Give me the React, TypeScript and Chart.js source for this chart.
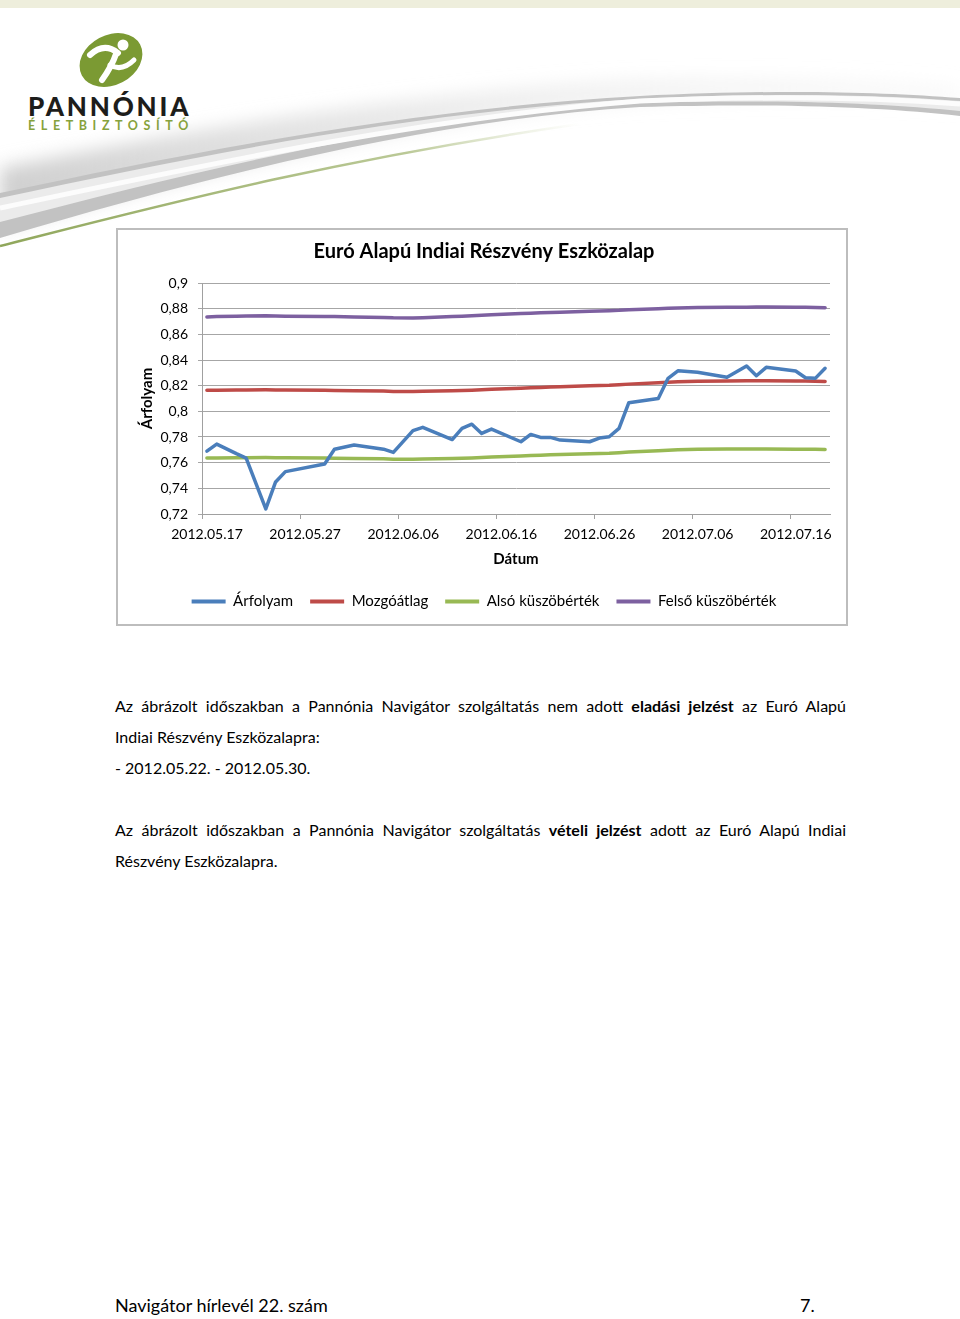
import React, { useEffect, useRef } from 'react';
import { Chart, registerables } from 'chart.js';

Chart.register(...registerables);

// ---------------- DATA ----------------
const dates = [
  '2012.05.17', '2012.05.18', '2012.05.20', '2012.05.21', '2012.05.23', '2012.05.24', '2012.05.25',
  '2012.05.29', '2012.05.30', '2012.06.01', '2012.06.04', '2012.06.05', '2012.06.07', '2012.06.08',
  '2012.06.11', '2012.06.12', '2012.06.13', '2012.06.14', '2012.06.15', '2012.06.18', '2012.06.19',
  '2012.06.20', '2012.06.21', '2012.06.22', '2012.06.25', '2012.06.26', '2012.06.27', '2012.06.28',
  '2012.06.29', '2012.07.02', '2012.07.03', '2012.07.04', '2012.07.06', '2012.07.09', '2012.07.11',
  '2012.07.12', '2012.07.13', '2012.07.16', '2012.07.17', '2012.07.18', '2012.07.19',
];

const arfolyam = [
  0.769, 0.7745, 0.767, 0.7635, 0.724, 0.745, 0.753,
  0.759, 0.7705, 0.7737, 0.7705, 0.768, 0.785, 0.7875,
  0.778, 0.7867, 0.79, 0.7828, 0.7862, 0.7763, 0.782,
  0.7797, 0.7797, 0.7776, 0.7763, 0.7792, 0.7802, 0.7867,
  0.8067, 0.81, 0.8257, 0.8316, 0.8304, 0.8265, 0.8353,
  0.8277, 0.8343, 0.8314, 0.8262, 0.8257, 0.8335,
];

const mozgoatlag = [
  0.8164, 0.8165, 0.8166, 0.8167, 0.8168, 0.8167, 0.8166,
  0.8164, 0.8163, 0.8161, 0.8158, 0.8155, 0.8154, 0.8156,
  0.8161, 0.8163, 0.8165, 0.8168, 0.8172, 0.818, 0.8183,
  0.8186, 0.8189, 0.8192, 0.8199, 0.8201, 0.8203, 0.8207,
  0.8212, 0.8222, 0.8226, 0.823, 0.8234, 0.8237, 0.8238,
  0.8238, 0.8238, 0.8237, 0.8236, 0.8235, 0.8233,
];

const alsoKuszob = [
  0.7636, 0.7637, 0.7638, 0.7639, 0.764, 0.7639, 0.7638,
  0.7636, 0.7635, 0.7633, 0.763, 0.7627, 0.7626, 0.7628,
  0.7633, 0.7635, 0.7637, 0.764, 0.7644, 0.7652, 0.7655,
  0.7658, 0.7661, 0.7664, 0.767, 0.7672, 0.7674, 0.7678,
  0.7683, 0.7693, 0.7697, 0.77, 0.7704, 0.7706, 0.7706,
  0.7706, 0.7706, 0.7705, 0.7705, 0.7704, 0.7703,
];

const felsoKuszob = [
  0.8736, 0.8738, 0.874, 0.8742, 0.8744, 0.8742, 0.874,
  0.8738, 0.8738, 0.8736, 0.8732, 0.8729, 0.8728, 0.873,
  0.8738, 0.8741, 0.8744, 0.8748, 0.8753, 0.8762, 0.8765,
  0.8768, 0.8771, 0.8773, 0.8779, 0.8781, 0.8784, 0.8787,
  0.8792, 0.88, 0.8804, 0.8806, 0.8809, 0.8811, 0.8812,
  0.8813, 0.8813, 0.8812, 0.8811, 0.881, 0.8808,
];

const xTickLabels = ['2012.05.17', '2012.05.27', '2012.06.06', '2012.06.16', '2012.06.26', '2012.07.06', '2012.07.16'];
const xAxisStart = '2012.05.17';
const xAxisEnd = '2012.07.20';
const yMin = 0.72;
const yMax = 0.9;
const yStep = 0.02;

const seriesNames = ['Árfolyam', 'Mozgóátlag', 'Alsó küszöbérték', 'Felső küszöbérték'];
const seriesColors = ['#4a7ebb', '#be4b48', '#98b954', '#7d60a0'];
const seriesValues = [arfolyam, mozgoatlag, alsoKuszob, felsoKuszob];

// ---------------- HELPERS ----------------
function toUTC(s: string) {
  const [y, m, d] = s.split('.').map(Number);
  return Date.UTC(y, m - 1, d);
}
const DAY = 86400000;
const day0 = toUTC(xAxisStart);
function dayPos(s: string) {
  return (toUTC(s) - day0) / DAY;
}

function ChartBox() {
  const ref = useRef<HTMLCanvasElement | null>(null);
  useEffect(() => {
    if (!ref.current) return;
    Chart.defaults.font.family = 'Lato';
    const datasets = seriesValues.map((vals, i) => ({
      label: seriesNames[i],
      data: dates.map((d, k) => ({ x: dayPos(d) + 0.5, y: vals[k] })),
      borderColor: seriesColors[i],
      backgroundColor: seriesColors[i],
      borderWidth: 3.5,
      pointRadius: 0,
      tension: 0,
      borderCapStyle: 'round' as const,
      borderJoinStyle: 'round' as const,
    }));
    const chart = new Chart(ref.current, {
      type: 'line',
      data: { datasets },
      options: {
        animation: false,
        responsive: false,
        maintainAspectRatio: false,
        layout: { padding: { left: 20, right: 16, top: 0, bottom: 5 } },
        plugins: {
          title: {
            display: true,
            text: 'Euró Alapú Indiai Részvény Eszközalap',
            color: '#000',
            font: { family: 'Lato', size: 20, weight: 'bold' },
            padding: { top: 10, bottom: 19 },
          },
          legend: {
            position: 'bottom',
            labels: {
              boxWidth: 34,
              boxHeight: 4,
              padding: 17,
              color: '#000',
              font: { family: 'Lato', size: 15 },
              generateLabels: (c: any) =>
                Chart.defaults.plugins.legend.labels.generateLabels(c).map((it: any) => ({
                  ...it,
                  lineWidth: 0,
                  fillStyle: it.strokeStyle,
                })),
            },
          },
          tooltip: { enabled: false },
        },
        scales: {
          x: {
            type: 'linear',
            min: 0,
            max: dayPos(xAxisEnd),
            afterBuildTicks: (s: any) => {
              s.ticks = xTickLabels.map((l) => ({ value: dayPos(l) }));
            },
            afterFit: (s: any) => {
              s.height = 63;
            },
            ticks: {
              autoSkip: false,
              maxRotation: 0,
              padding: 7,
              labelOffset: 5,
              color: '#000',
              font: { family: 'Lato', size: 14 },
              callback: (v: any) => {
                const lab = xTickLabels.find((l) => Math.abs(dayPos(l) - v) < 0.01);
                return lab || '';
              },
            },
            grid: { drawOnChartArea: false, drawTicks: true, tickLength: 5, color: '#a0a0a0' },
            border: { color: '#a0a0a0', width: 1 },
            title: {
              display: true,
              text: 'Dátum',
              color: '#000',
              font: { family: 'Lato', size: 15, weight: 'bold' },
              padding: { top: 0, bottom: 9 },
            },
          },
          y: {
            min: yMin,
            max: yMax,
            afterFit: (s: any) => {
              s.width = 64;
            },
            ticks: {
              stepSize: yStep,
              padding: 10,
              color: '#000',
              font: { family: 'Lato', size: 14 },
              callback: (v: any) => String(Math.round(Number(v) * 100) / 100).replace('.', ','),
            },
            grid: { color: '#a6a6a6', lineWidth: 1, tickLength: 4 },
            border: { color: '#a0a0a0', width: 1 },
            title: {
              display: true,
              text: 'Árfolyam',
              color: '#000',
              font: { family: 'Lato', size: 15, weight: 'bold' },
              padding: 0,
            },
          },
        },
      } as any,
    });
    return () => chart.destroy();
  }, []);
  return <canvas ref={ref} width={728} height={394} style={{ display: 'block', width: 728, height: 394 }} />;
}

function Header() {
  return (
    <svg width={960} height={260} style={{ position: 'absolute', left: 0, top: 0 }}>
      <defs>
        <filter id="blur" x="-10%" y="-50%" width="120%" height="200%">
          <feGaussianBlur stdDeviation="9" />
        </filter>
        <linearGradient id="greenFade" x1="0" y1="0" x2="1" y2="0">
          <stop offset="0" stopColor="#8fa65a" stopOpacity="1" />
          <stop offset="0.7" stopColor="#a9bb7c" stopOpacity="0.8" />
          <stop offset="1" stopColor="#c8d3a8" stopOpacity="0" />
        </linearGradient>
        <linearGradient id="shadeFade" x1="0" y1="0" x2="1" y2="0">
          <stop offset="0" stopColor="#cfcfcf" stopOpacity="1" />
          <stop offset="0.5" stopColor="#e2e2e2" stopOpacity="0.6" />
          <stop offset="1" stopColor="#eeeeee" stopOpacity="0.3" />
        </linearGradient>
      </defs>
      <rect x={0} y={0} width={960} height={8} fill="#eeeedc" />
      {/* soft shadow above the swoosh */}
      <path
        d="M0,168 C200,128 420,90 640,80 C780,76 880,80 960,86 L960,104 C880,98 780,96 640,102 C440,114 220,168 0,228 Z"
        fill="url(#shadeFade)"
        filter="url(#blur)"
      />
      {/* outer band */}
      <path
        d="M0,193 C200,150 420,108 640,96 C780,89 880,92 960,98 L960,116 C880,107 780,103 640,107 C440,119 220,172 0,238 Z"
        fill="#c2c2c2"
      />
      {/* inner lighter band */}
      <path
        d="M0,198 C200,155 420,111 640,99 C780,92 880,95 960,101 L960,111 C880,103 780,99 640,103 C440,114 220,164 0,222 Z"
        fill="#ebebeb"
      />
      <path d="M0,208 C200,166 420,118 640,101 C780,95 880,98 960,104" stroke="#fcfcfc" strokeWidth={5} fill="none" />
      {/* green accent line */}
      <path d="M0,246 C150,208 330,160 580,124" stroke="url(#greenFade)" strokeWidth={2.5} fill="none" />
      {/* logo mark */}
      <ellipse cx={111} cy={60} rx={33} ry={25} transform="rotate(-28 111 60)" fill="#7b9a33" />
      <circle cx={123} cy={45} r={5.5} fill="#fff" />
      <path d="M90,55 Q104,42 118,53" stroke="#fff" strokeWidth={6} fill="none" strokeLinecap="round" />
      <path d="M116,54 Q112,66 102,80" stroke="#fff" strokeWidth={6} fill="none" strokeLinecap="round" />
      <path d="M110,65 Q122,72 134,60" stroke="#fff" strokeWidth={5} fill="none" strokeLinecap="round" />
      <text x={28} y={116} fontFamily="Lato" fontWeight={900} fontSize={26} fill="#1d1d1b" letterSpacing={2.8}>
        PANNÓNIA
      </text>
      <text x={28} y={130} fontFamily="Lato" fontWeight={700} fontSize={12.5} fill="#86a23c" letterSpacing={5.6}>
        ÉLETBIZTOSÍTÓ
      </text>
    </svg>
  );
}

const textStyle: React.CSSProperties = {
  position: 'absolute',
  left: 115,
  width: 731,
  height: 31,
  lineHeight: '31px',
  fontFamily: 'Lato',
  fontSize: 16,
  color: '#000',
};

export default function App() {
  return (
    <div style={{ position: 'absolute', left: 0, top: 0, width: 960, height: 1319, background: '#fff', overflow: 'hidden' }}>
      <Header />
      <div
        style={{
          position: 'absolute',
          left: 116,
          top: 228,
          width: 728,
          height: 394,
          border: '2px solid #bdbdbd',
          background: '#fff',
        }}
      >
        <ChartBox />
      </div>
      <div style={{ ...textStyle, top: 690, textAlign: 'justify', textAlignLast: 'justify' }}>
        Az ábrázolt időszakban a Pannónia Navigátor szolgáltatás nem adott <b>eladási jelzést</b> az Euró Alapú
      </div>
      <div style={{ ...textStyle, top: 721 }}>Indiai Részvény Eszközalapra:</div>
      <div style={{ ...textStyle, top: 752 }}>- 2012.05.22. - 2012.05.30.</div>
      <div style={{ ...textStyle, top: 814, textAlign: 'justify', textAlignLast: 'justify' }}>
        Az ábrázolt időszakban a Pannónia Navigátor szolgáltatás <b>vételi jelzést</b> adott az Euró Alapú Indiai
      </div>
      <div style={{ ...textStyle, top: 845 }}>Részvény Eszközalapra.</div>
      <div style={{ ...textStyle, top: 1290, fontSize: 18 }}>Navigátor hírlevél 22. szám</div>
      <div style={{ ...textStyle, top: 1290, left: 800, width: 40, fontSize: 18 }}>7.</div>
    </div>
  );
}
